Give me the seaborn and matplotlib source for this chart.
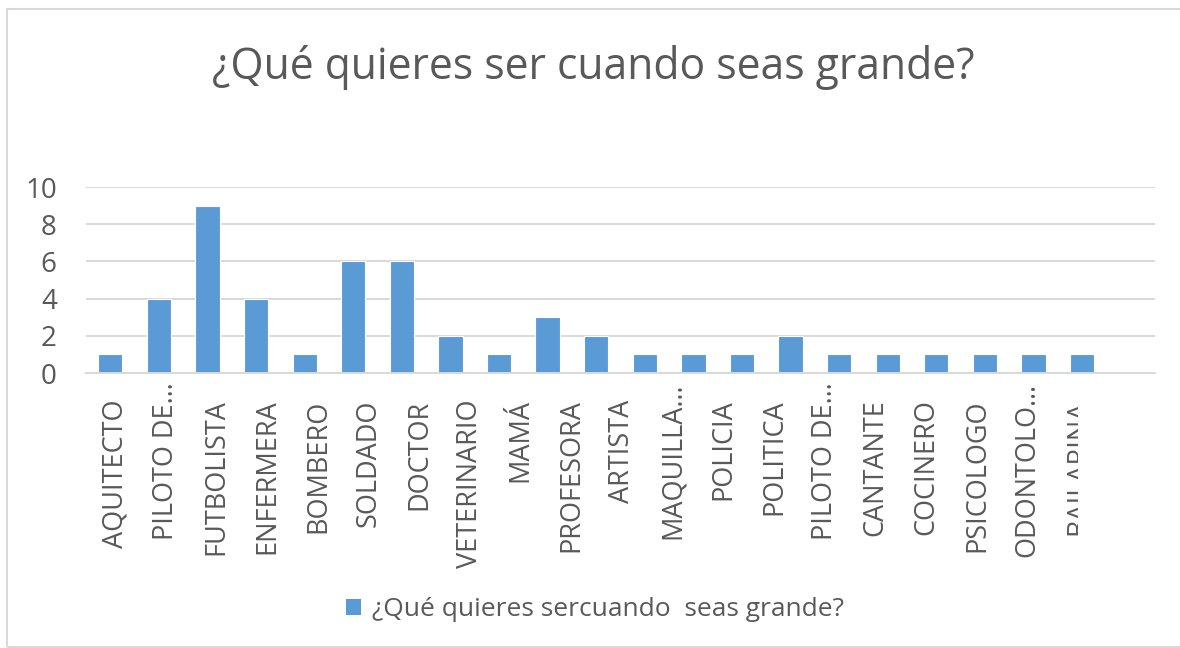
import numpy as np
import pandas as pd
import matplotlib
matplotlib.use("Agg")
import matplotlib.pyplot as plt
import seaborn as sns
from matplotlib.patches import Patch, Rectangle
from matplotlib.transforms import ScaledTranslation

# Data (last two slots carry no visible label)
labels = ["AQUITECTO", "PILOTO DE…", "FUTBOLISTA", "ENFERMERA", "BOMBERO",
          "SOLDADO", "DOCTOR", "VETERINARIO", "MAMÁ", "PROFESORA",
          "ARTISTA", "MAQUILLA…", "POLICIA", "POLITICA", "PILOTO DE…",
          "CANTANTE", "COCINERO", "PSICOLOGO", "ODONTOLO…", "BAILARINA",
          "", ""]
values = [1, 4, 9, 4, 1, 6, 6, 2, 1, 3, 2, 1, 1, 1, 2, 1, 1, 1, 1, 1, 1]
yticks = [0, 2, 4, 6, 8, 10]

title = "¿Qué quieres ser cuando seas grande?"
series_name = "¿Qué quieres sercuando  seas grande?"

BLUE = "#5B9BD5"
TEXT = "#595959"
GRID = "#D9D9D9"

# unique keys for the categories (labels repeat / are blank)
keys = [f"c{i}" for i in range(len(labels))]
df = pd.DataFrame({"cat": keys[:len(values)], "n": values})

sns.set_style("white")
plt.rcParams["font.family"] = ["Open Sans", "DejaVu Sans"]

fig = plt.figure(figsize=(11.8, 6.48), dpi=100)
ax = fig.add_axes([86 / 1180, 1 - 373 / 648, (1155 - 86) / 1180, (373 - 187) / 648])

sns.barplot(data=df, x="cat", y="n", order=keys, color=BLUE, saturation=1,
            width=0.5, edgecolor="white", linewidth=0.8, ax=ax)

n = len(keys)
ax.set_xlabel("")
ax.set_ylabel("")

# y axis
ax.set_yticks(yticks)
ax.set_yticklabels([str(v) for v in yticks], fontsize=20, color=TEXT)
ax.tick_params(axis="y", length=0, pad=21)
ax.yaxis.grid(True, color=GRID, linewidth=1.4)
ax.set_axisbelow(True)

# x axis: labels drift slightly right of the bars in the original
pos = np.arange(n) * (50.7 / 48.6) + 0.1
ax.set_xticks(pos)
ax.set_xticklabels(labels, rotation=90, fontsize=19.5, color=TEXT, va="top", ha="center")
ax.tick_params(axis="x", which="major", length=0, pad=19)
ax.set_xticks(np.arange(n + 1) - 0.5, minor=True)
ax.tick_params(axis="x", which="minor", length=7, width=1.2, color=GRID)

# truncated labels sit a bit higher in the original
for t in ax.get_xticklabels():
    if t.get_text().endswith("…"):
        t.set_transform(t.get_transform() + ScaledTranslation(0, 0.17, fig.dpi_scale_trans))

# limits last, set_xticks widens them
ax.set_xlim(-0.5, n - 0.5)
ax.set_ylim(0, 10)

for s in ["top", "left", "right"]:
    ax.spines[s].set_visible(False)
ax.spines["bottom"].set_color(GRID)
ax.spines["bottom"].set_linewidth(1.4)

# the label area is cut off at the right (BAILARINA) and at the bottom
fig.add_artist(Rectangle((1078 / 1180, 1 - 590 / 648), 0.2, 200 / 648,
                         transform=fig.transFigure, facecolor="white",
                         edgecolor="none", zorder=5))
fig.add_artist(Rectangle((0.01, 1 - 590 / 648), 0.98, 20 / 648,
                         transform=fig.transFigure, facecolor="white",
                         edgecolor="none", zorder=5))

fig.text(593 / 1180, 1 - 68 / 648, title, ha="center", va="center",
         fontsize=30.7, color=TEXT)

fig.legend(handles=[Patch(facecolor=BLUE, edgecolor="none")], labels=[series_name],
           loc="center", bbox_to_anchor=(595 / 1180, 1 - 610 / 648), frameon=False,
           fontsize=19, handlelength=0.57, handleheight=0.57, handletextpad=0.45,
           labelcolor=TEXT)

# chart frame
fig.add_artist(Rectangle((7 / 1180, 1 / 648), 1.2, 1 - 10 / 648,
                         transform=fig.transFigure, fill=False,
                         edgecolor=GRID, linewidth=1.5, zorder=6))

fig.savefig("out.png", dpi=100, facecolor="white")
